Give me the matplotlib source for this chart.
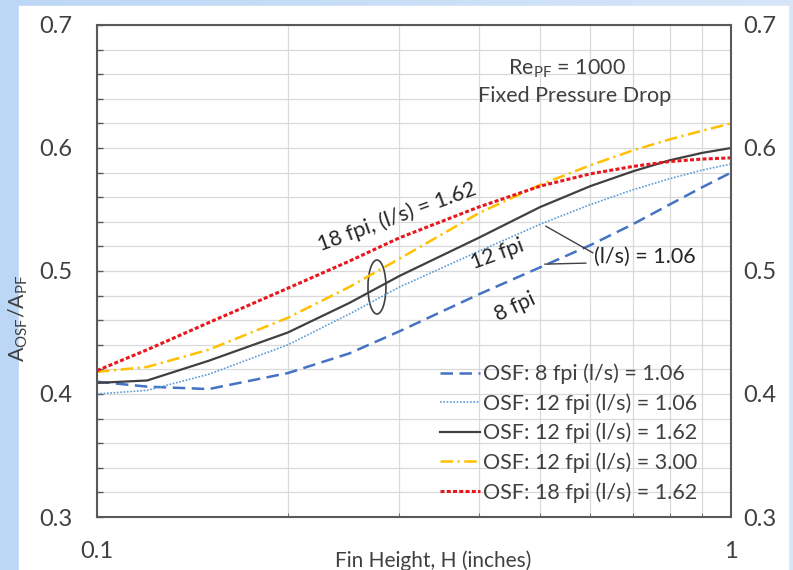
import numpy as np
import matplotlib
matplotlib.use('Agg')
import matplotlib.pyplot as plt
from matplotlib.patches import Ellipse, Rectangle
from matplotlib.colors import LinearSegmentedColormap
from matplotlib.ticker import MultipleLocator, FixedLocator, NullFormatter, FixedFormatter

plt.rcParams['font.family'] = ['Lato', 'DejaVu Sans']
plt.rcParams['mathtext.default'] = 'regular'

# 数据
fin_height = [0.1, 0.12, 0.15, 0.2, 0.25, 0.3, 0.4, 0.5, 0.6, 0.7, 0.8, 0.9, 1.0]
osf_8fpi_106 = [0.410, 0.406, 0.404, 0.417, 0.433, 0.451, 0.481, 0.503, 0.521, 0.538, 0.554, 0.568, 0.580]
osf_12fpi_106 = [0.400, 0.403, 0.416, 0.440, 0.465, 0.487, 0.516, 0.538, 0.554, 0.566, 0.575, 0.582, 0.587]
osf_12fpi_162 = [0.409, 0.411, 0.427, 0.450, 0.474, 0.496, 0.527, 0.552, 0.569, 0.581, 0.590, 0.596, 0.600]
osf_12fpi_300 = [0.418, 0.422, 0.436, 0.462, 0.487, 0.510, 0.547, 0.570, 0.586, 0.598, 0.607, 0.614, 0.620]
osf_18fpi_162 = [0.419, 0.436, 0.458, 0.486, 0.508, 0.527, 0.552, 0.569, 0.579, 0.585, 0.589, 0.591, 0.592]

labels = ['OSF: 8 fpi (l/s) = 1.06', 'OSF: 12 fpi (l/s) = 1.06', 'OSF: 12 fpi (l/s) = 1.62',
          'OSF: 12 fpi (l/s) = 3.00', 'OSF: 18 fpi (l/s) = 1.62']
x_ticks = [0.1, 1]
x_ticklabels = ['0.1', '1']

txt = '#404040'
dark = '#262626'

fig = plt.figure(figsize=(7.93, 5.70), dpi=100)

# 浅蓝色渐变背景 + 白色面板
bg = fig.add_axes([0, 0, 1, 1], zorder=-10)
cmap = LinearSegmentedColormap.from_list('bg', ['#bcd7f5', '#d6e6f8'])
bg.imshow(np.linspace(0, 1, 256)[None, :], aspect='auto', cmap=cmap, extent=[0, 1, 0, 1])
bg.add_patch(Rectangle((19 / 793, 0), (788 - 19) / 793, (570 - 6) / 570, color='white'))
bg.set_xlim(0, 1), bg.set_ylim(0, 1)
bg.axis('off')

ax = fig.add_axes([97 / 793, 53 / 570, 634 / 793, 492 / 570])
ax.set_facecolor('white')

ax.plot(fin_height, osf_8fpi_106, color='#4472C4', lw=1.8, dashes=(5, 2.6), label=labels[0])
ax.plot(fin_height, osf_12fpi_106, color='#5B9BD5', lw=1.2, dashes=(1, 1), label=labels[1])
ax.plot(fin_height, osf_12fpi_162, color='#404040', lw=1.6, label=labels[2])
ax.plot(fin_height, osf_12fpi_300, color='#FFC000', lw=1.8, dashes=(5, 1.8, 0.9, 1.8), label=labels[3])
ax.plot(fin_height, osf_18fpi_162, color='#E8161D', lw=2.2, dashes=(1.3, 0.75), label=labels[4])

ax.set_xscale('log')
ax.set_xlim(0.1, 1)
ax.set_ylim(0.3, 0.7)
ax.xaxis.set_major_locator(FixedLocator(x_ticks))
ax.xaxis.set_major_formatter(FixedFormatter(x_ticklabels))
ax.xaxis.set_minor_locator(FixedLocator([0.2, 0.3, 0.4, 0.5, 0.6, 0.7, 0.8, 0.9]))
ax.xaxis.set_minor_formatter(NullFormatter())
ax.yaxis.set_major_locator(MultipleLocator(0.1))
ax.yaxis.set_minor_locator(MultipleLocator(0.02))
ax.yaxis.set_major_formatter(lambda v, p: f'{v:.1f}')

ax.grid(True, which='both', color='#d9d9d9', lw=0.9)
ax.set_axisbelow(True)
for s in ax.spines.values():
    s.set_color('#595959')
    s.set_linewidth(1.5)

ax.tick_params(axis='y', which='both', direction='in', left=True, right=True,
               labelleft=True, labelright=False, color='#595959', width=1.0, length=4.5)
ax.tick_params(axis='y', labelsize=17, labelcolor=txt, pad=18)
ax.tick_params(axis='x', which='major', length=0, labelsize=17, labelcolor=txt, pad=17)
ax.tick_params(axis='x', which='minor', direction='in', length=3, color='#595959')

# 右侧刻度标签
ax2 = ax.twinx()
ax2.set_ylim(0.3, 0.7)
ax2.yaxis.set_major_locator(MultipleLocator(0.1))
ax2.yaxis.set_major_formatter(lambda v, p: f'{v:.1f}')
ax2.tick_params(axis='y', length=0, labelsize=17, labelcolor=txt, pad=9)
for s in ax2.spines.values():
    s.set_visible(False)

ax.set_xlabel('Fin Height, H (inches)', fontsize=15, color=txt)
ax.xaxis.set_label_coords(0.53, -0.068)
ax.xaxis.label.set_va('top')
ax.set_ylabel(r'A$_{OSF}$/A$_{PF}$', fontsize=15.5, color=txt)
ax.yaxis.set_label_coords(-0.106, 0.404)

# 注释
ax.text(0.741, 0.911, r'Re$_{PF}$ = 1000', transform=ax.transAxes, ha='center', va='center',
        fontsize=15.5, color=txt)
ax.text(0.754, 0.856, 'Fixed Pressure Drop', transform=ax.transAxes, ha='center', va='center',
        fontsize=15.5, color=txt)
ax.text(0.297, 0.544, '18 fpi, (l/s) = 1.62', rotation=20, rotation_mode='anchor',
        ha='center', va='center', fontsize=15.5, color=dark)
ax.text(0.428, 0.514, '12 fpi', rotation=20, rotation_mode='anchor',
        ha='center', va='center', fontsize=15.5, color=dark)
ax.text(0.456, 0.4707, '8 fpi', rotation=25, rotation_mode='anchor',
        ha='center', va='center', fontsize=15.5, color=dark)
ax.text(0.732, 0.5114, '(l/s) = 1.06', ha='center', va='center', fontsize=15.5, color=dark)
ax.plot([0.708, 0.782], [0.591, 0.537], transform=ax.transAxes, color='#404040', lw=1.0)
ax.plot([0.7066, 0.771], [0.514, 0.516], transform=ax.transAxes, color='#404040', lw=1.0)
ax.add_patch(Ellipse((0.4416, 0.4675), 0.0284, 0.1098, transform=ax.transAxes,
                     fill=False, edgecolor='#404040', lw=1.2))

leg = ax.legend(loc='upper left', bbox_to_anchor=(0.541, 0.312), borderaxespad=0,
                borderpad=0, frameon=False, fontsize=15.5, handlelength=1.86,
                handletextpad=0.14, labelspacing=0.42, labelcolor=txt)

fig.savefig('out.png', dpi=100)
